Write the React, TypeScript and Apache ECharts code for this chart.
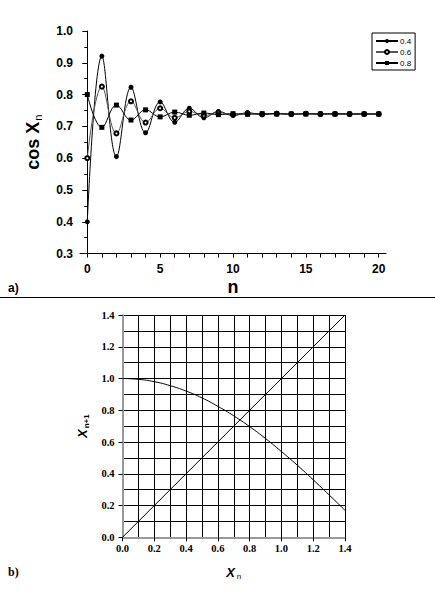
import React, { useEffect, useRef } from "react";
import * as echarts from "echarts";

const nValues = [0, 1, 2, 3, 4, 5, 6, 7, 8, 9, 10, 11, 12, 13, 14, 15, 16, 17, 18, 19, 20];
const series04 = [0.400, 0.921, 0.605, 0.823, 0.680, 0.777, 0.713, 0.757, 0.727, 0.747, 0.734, 0.743, 0.737, 0.741, 0.738, 0.740, 0.739, 0.740, 0.739, 0.739, 0.739];
const series06 = [0.600, 0.825, 0.678, 0.779, 0.712, 0.757, 0.727, 0.747, 0.734, 0.743, 0.737, 0.741, 0.738, 0.740, 0.739, 0.740, 0.739, 0.739, 0.739, 0.739, 0.739];
const series08 = [0.800, 0.697, 0.767, 0.720, 0.752, 0.730, 0.745, 0.735, 0.742, 0.737, 0.740, 0.738, 0.740, 0.739, 0.739, 0.739, 0.739, 0.739, 0.739, 0.739, 0.739];
const topXLabels = [0, 5, 10, 15, 20];

const xn = [0, 0.1, 0.2, 0.3, 0.4, 0.5, 0.6, 0.7, 0.8, 0.9, 1.0, 1.1, 1.2, 1.3, 1.4];
const cosCurve = [1.000, 0.995, 0.980, 0.955, 0.921, 0.878, 0.825, 0.765, 0.697, 0.622, 0.540, 0.454, 0.362, 0.267, 0.170];
const diagX = [0, 1.4];
const diagY = [0, 1.4];

const SANS = "Liberation Sans";
const SERIF = "Liberation Serif";

function pairs(xs: number[], ys: number[]) {
  return xs.map((x, i) => [x, ys[i]]);
}

export default function App() {
  const ref = useRef<HTMLDivElement>(null);
  useEffect(() => {
    if (!ref.current) return;
    const chart = echarts.init(ref.current, null, { renderer: "svg" });
    const option: any = {
      animation: false,
      backgroundColor: "#fff",
      textStyle: { fontFamily: SANS },
      legend: {
        left: 372,
        top: 33,
        orient: "vertical",
        data: ["0.4", "0.6", "0.8"],
        itemWidth: 22,
        itemHeight: 5,
        itemGap: 3,
        padding: [4, 4, 3, 3],
        borderColor: "#000",
        borderWidth: 1,
        textStyle: { fontSize: 8, fontFamily: SANS, color: "#000", padding: [0, 0, 0, -3] },
      },
      grid: [
        { left: 80, right: 49, top: 31, bottom: 346.4, containLabel: false },
        { left: 122.5, right: 90, top: 315, bottom: 62.7, containLabel: false },
      ],
      xAxis: [
        {
          type: "value",
          gridIndex: 0,
          min: -0.5,
          max: 20.5,
          axisLine: { lineStyle: { color: "#000", width: 1 } },
          axisTick: { customValues: nValues, length: 4, lineStyle: { color: "#000" } },
          axisLabel: {
            customValues: topXLabels,
            fontSize: 12,
            fontWeight: "bold",
            color: "#000",
            fontFamily: SANS,
            margin: 9,
          },
          splitLine: { show: false },
          name: "n",
          nameLocation: "middle",
          nameGap: 24,
          nameTextStyle: { fontSize: 18, fontWeight: "bold", color: "#000", fontFamily: SANS },
        },
        {
          type: "value",
          gridIndex: 1,
          min: 0,
          max: 1.4,
          interval: 0.2,
          axisLine: { lineStyle: { color: "#999", width: 2 } },
          axisTick: { length: 4, lineStyle: { color: "#000" } },
          minorTick: { show: false, splitNumber: 2 },
          axisLabel: {
            fontSize: 10.5,
            fontWeight: "bold",
            color: "#000",
            fontFamily: SERIF,
            margin: 6,
            formatter: (v: number) => v.toFixed(1),
          },
          splitLine: { show: true, lineStyle: { color: "#000", width: 1 } },
          minorSplitLine: { show: true, lineStyle: { color: "#000", width: 1 } },
          name: "{x|X}{s|n}",
          nameLocation: "middle",
          nameGap: 27,
          nameTextStyle: {
            rich: {
              x: { fontSize: 13, fontWeight: "bold", fontStyle: "italic", fontFamily: SANS, color: "#000" },
              s: { fontSize: 8, fontFamily: SANS, color: "#000", verticalAlign: "bottom", padding: [8, 0, 0, 2] },
            },
          },
        },
      ],
      yAxis: [
        {
          type: "value",
          gridIndex: 0,
          min: 0.3,
          max: 1.0,
          interval: 0.1,
          axisLine: { show: true, lineStyle: { color: "#000", width: 1 } },
          axisTick: { show: true, length: 5, lineStyle: { color: "#000" } },
          minorTick: { show: true, splitNumber: 2, length: 3, lineStyle: { color: "#000" } },
          axisLabel: {
            fontSize: 12,
            fontWeight: "bold",
            color: "#000",
            fontFamily: SANS,
            margin: 7,
            formatter: (v: number) => v.toFixed(1),
          },
          splitLine: { show: false },
          name: "{c|cos X}{s|n}",
          nameLocation: "middle",
          nameGap: 37,
          nameTextStyle: {
            rich: {
              c: { fontSize: 18, fontWeight: "bold", fontFamily: SANS, color: "#000" },
              s: { fontSize: 11, fontFamily: SANS, color: "#000", padding: [10, 0, 0, 1] },
            },
          },
        },
        {
          type: "value",
          gridIndex: 1,
          min: 0,
          max: 1.4,
          interval: 0.2,
          axisLine: { show: true, lineStyle: { color: "#999", width: 2 } },
          axisTick: { show: true, length: 4, lineStyle: { color: "#000" } },
          axisLabel: {
            fontSize: 10.5,
            fontWeight: "bold",
            color: "#000",
            fontFamily: SERIF,
            margin: 8,
            formatter: (v: number) => v.toFixed(1),
          },
          splitLine: { show: true, lineStyle: { color: "#000", width: 1 } },
          minorSplitLine: { show: true, lineStyle: { color: "#000", width: 1 } },
          minorTick: { show: false, splitNumber: 2 },
          name: "{x|X}{s|n+1}",
          nameLocation: "middle",
          nameGap: 30,
          nameTextStyle: {
            rich: {
              x: { fontSize: 13, fontWeight: "bold", fontStyle: "italic", fontFamily: SANS, color: "#000" },
              s: { fontSize: 8, fontWeight: "bold", fontFamily: SANS, color: "#000", padding: [8, 0, 0, 1] },
            },
          },
        },
      ],
      series: [
        {
          name: "0.4",
          type: "line",
          xAxisIndex: 0,
          yAxisIndex: 0,
          data: pairs(nValues, series04),
          smooth: 0.4,
          symbol: "circle",
          symbolSize: 5,
          lineStyle: { color: "#000", width: 1 },
          itemStyle: { color: "#000" },
        },
        {
          name: "0.6",
          type: "line",
          xAxisIndex: 0,
          yAxisIndex: 0,
          data: pairs(nValues, series06),
          smooth: 0.4,
          symbol: "emptyCircle",
          symbolSize: 4,
          lineStyle: { color: "#555", width: 1 },
          itemStyle: { color: "#000", borderColor: "#000", borderWidth: 0.8 },
        },
        {
          name: "0.8",
          type: "line",
          xAxisIndex: 0,
          yAxisIndex: 0,
          data: pairs(nValues, series08),
          smooth: 0.4,
          symbol: "rect",
          symbolSize: 5,
          lineStyle: { color: "#000", width: 1 },
          itemStyle: { color: "#000" },
        },
        {
          type: "line",
          xAxisIndex: 1,
          yAxisIndex: 1,
          data: pairs(xn, cosCurve),
          smooth: true,
          showSymbol: false,
          symbol: "none",
          lineStyle: { color: "#000", width: 1 },
        },
        {
          type: "line",
          xAxisIndex: 1,
          yAxisIndex: 1,
          data: pairs(diagX, diagY),
          showSymbol: false,
          symbol: "none",
          lineStyle: { color: "#000", width: 1 },
        },
      ],
      graphic: [
        { type: "line", shape: { x1: 0, y1: 297.5, x2: 435, y2: 297.5 }, style: { stroke: "#000", lineWidth: 1 } },
        { type: "text", x: 8, y: 282, style: { text: "a)", fontSize: 12, fontWeight: "bold", fontFamily: SANS, fill: "#000" } },
        { type: "text", x: 8, y: 566, style: { text: "b)", fontSize: 12, fontWeight: "bold", fontFamily: SERIF, fill: "#000" } },
      ],
    };
    chart.setOption(option);
    return () => chart.dispose();
  }, []);
  return <div ref={ref} style={{ position: "fixed", left: 0, top: 0, width: 435, height: 600 }} />;
}
